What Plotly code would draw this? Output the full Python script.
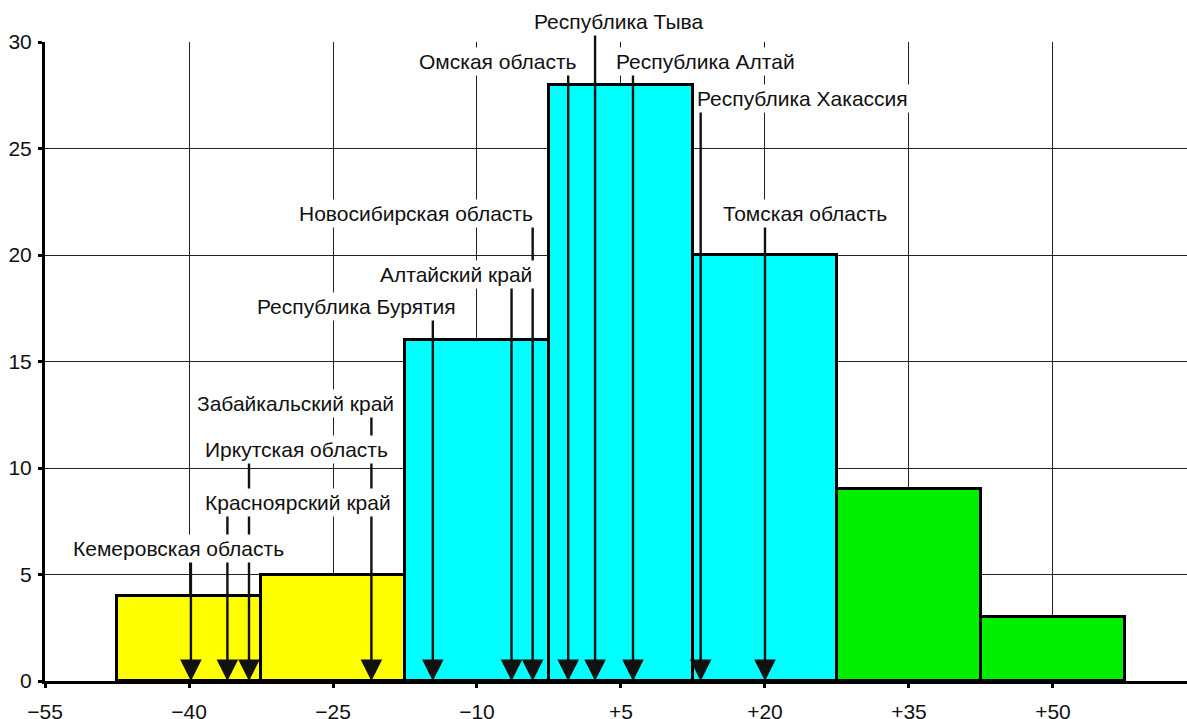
import plotly.graph_objects as go

# Histogram bins (centres), counts and colours
bin_centers = [-40, -25, -10, 5, 20, 35, 50]
counts = [4, 5, 16, 28, 20, 9, 3]
bin_colors = ["#FFFF00", "#FFFF00", "#00FFFF", "#00FFFF", "#00FFFF", "#00EE00", "#00EE00"]
bin_width = 15

# Regions: name, arrow x-value, label position (x, y) in data units
region_names = [
    "Кемеровская область", "Красноярский край", "Иркутская область",
    "Забайкальский край", "Республика Бурятия", "Алтайский край",
    "Новосибирская область", "Омская область", "Республика Тыва",
    "Республика Алтай", "Республика Хакассия", "Томская область",
]
region_values = [-39.8, -36.0, -33.75, -21.0, -14.6, -6.4, -4.2, -0.5, 2.3, 6.25, 13.3, 20.0]
label_x = [-41.1, -28.65, -28.85, -28.95, -22.6, -12.2, -16.35, -7.8, 4.8, 13.8, 23.95, 24.2]
label_y = [6.2, 8.4, 10.85, 13.05, 17.6, 19.1, 21.95, 29.1, 30.95, 29.1, 27.35, 21.95]

x_tickvals = [-55, -40, -25, -10, 5, 20, 35, 50]
x_ticktext = ["\u221255", "\u221240", "\u221225", "\u221210", "+5", "+20", "+35", "+50"]
y_tickvals = [0, 5, 10, 15, 20, 25, 30]
y_max = 30

FONT = "Liberation Sans, Arial, sans-serif"

fig = go.Figure()
fig.add_trace(go.Bar(
    x=bin_centers, y=counts, width=[bin_width] * len(counts),
    marker=dict(color=bin_colors, line=dict(color="black", width=3)),
    showlegend=False, hoverinfo="skip",
))

annotations = []
# arrows first (so label boxes cover them)
for v, ly in zip(region_values, label_y):
    annotations.append(dict(
        x=v, y=0, xref="x", yref="y", ax=v, ay=ly, axref="x", ayref="y",
        text="", showarrow=True, arrowhead=2, arrowsize=1.8, arrowwidth=2.4,
        arrowcolor="#111111", standoff=0, startstandoff=0,
    ))
for name, lx, ly in zip(region_names, label_x, label_y):
    annotations.append(dict(
        x=lx, y=ly / y_max, xref="x", yref="paper", text=name, showarrow=False,
        font=dict(family=FONT, size=21, color="#111111"),
        bgcolor="white", borderpad=2, xanchor="center", yanchor="middle",
    ))

fig.update_layout(
    width=1187, height=719,
    margin=dict(l=45, r=0, t=42, b=38),
    plot_bgcolor="white", paper_bgcolor="white",
    bargap=0,
    annotations=annotations,
    xaxis=dict(
        range=[-55, 63.96], tickmode="array", tickvals=x_tickvals, ticktext=x_ticktext,
        showgrid=True, gridcolor="#222222", gridwidth=1.2, zeroline=False,
        showline=True, linecolor="black", linewidth=3,
        ticks="outside", ticklen=4, tickwidth=3, tickcolor="black",
        ticklabelstandoff=6, automargin=False,
        tickfont=dict(family=FONT, size=21, color="#111111"),
    ),
    yaxis=dict(
        range=[0, y_max], tickmode="array", tickvals=y_tickvals,
        showgrid=True, gridcolor="#222222", gridwidth=1.2, zeroline=False,
        showline=True, linecolor="black", linewidth=3,
        ticks="outside", ticklen=4, tickwidth=3, tickcolor="black",
        ticklabelstandoff=2, automargin=False,
        tickfont=dict(family=FONT, size=21, color="#111111"),
    ),
)

fig.write_html("out.html", config={"displayModeBar": False},
               post_script="document.body.style.margin='0px';")
